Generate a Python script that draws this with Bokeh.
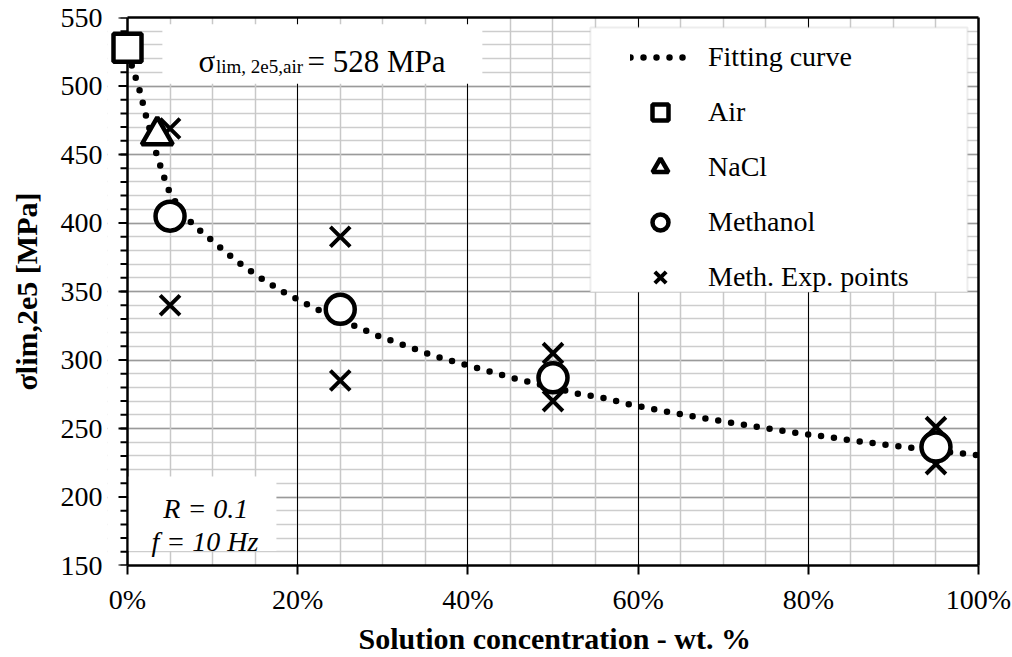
from bokeh.plotting import figure
from bokeh.models import (Range1d, PrintfTickFormatter, FixedTicker, Legend,
                          LegendItem, Label, BoxAnnotation, LinearAxis, Title)
from bokeh.embed import file_html
from bokeh.resources import INLINE

# ---------------- data ----------------
fit_x = [0.5, 0.86, 1.33, 1.72, 2.1, 3.0, 3.4, 3.9, 4.4, 5.0, 6.0, 7.0, 7.8,
         9.05, 10.3, 12.8, 15.4, 18.1, 21.0, 22.4, 26.9, 29.8, 32.9, 35.9,
         39.0, 42.1, 45.2, 48.0, 53.0, 56.2, 59.4, 62.5, 65.7, 68.9, 72.1,
         75.2, 78.4, 81.7, 84.8, 88.0, 91.2, 94.5, 97.7, 100.0]
fit_y = [515, 508, 499, 489.5, 480, 459.5, 450.5, 441, 431.5, 421.5, 412,
         404, 398, 391.8, 385.2, 372.3, 360.8, 350.4, 340.9, 336.7, 324.3,
         316.7, 310, 303.3, 297.7, 292.3, 287, 282.8, 275.3, 272, 267, 263.3,
         259.7, 256.3, 253.1, 250, 247, 244.3, 241.6, 239, 236.5, 234.2, 232,
         230.5]

air_x = [0]
air_y = [528]

nacl_x = [3.5]
nacl_y = [464]

meth_x = [5, 25, 50, 95]
meth_y = [405, 337, 287, 236.5]

exp_x = [5, 5, 25, 25, 50, 50, 95, 95]
exp_y = [469, 340, 390, 285, 305, 270, 251, 224]

x_ticks = [0, 20, 40, 60, 80, 100]
x_minor = list(range(0, 101, 5))
y_ticks = list(range(150, 551, 50))
y_minor = list(range(150, 551, 10))

FONT = "Liberation Serif"
X_START = -2.35   # room left of the y axis so the Air square is drawn whole
FRAME_LEFT, FRAME_RIGHT = 107, 978
PX_PER_X = (FRAME_RIGHT - FRAME_LEFT) / (100 - X_START)

p = figure(width=1012, height=657, output_backend="svg", toolbar_location=None,
           x_range=Range1d(X_START, 100), y_range=Range1d(150, 550),
           min_border_left=FRAME_LEFT, min_border_right=1012 - FRAME_RIGHT,
           min_border_top=17, min_border_bottom=92)
p.background_fill_color = "white"
p.border_fill_color = "white"
p.outline_line_color = None

# x axis
p.xaxis.ticker = FixedTicker(ticks=x_ticks, minor_ticks=x_minor)
p.xaxis.formatter = PrintfTickFormatter(format="%d%%")
p.xaxis.bounds = (0, 100)
p.xaxis.minor_tick_line_color = None
p.xaxis.major_label_standoff = 9

# y axis: only labels here, its line and ticks are drawn at x = 0 below
p.yaxis.ticker = FixedTicker(ticks=y_ticks, minor_ticks=y_minor)
p.yaxis.axis_line_color = None
p.yaxis.major_tick_line_color = None
p.yaxis.minor_tick_line_color = None
p.yaxis.major_tick_out = 0
p.yaxis.major_tick_in = 0
p.yaxis.major_label_standoff = 1
p.yaxis.axis_label_standoff = 15

for ax in (p.xaxis, p.yaxis):
    ax.axis_line_width = 2.5
    ax.major_tick_line_width = 2
    ax.major_label_text_font = FONT
    ax.major_label_text_font_size = "28px"
    ax.major_label_text_color = "black"
p.yaxis.axis_label_text_font = FONT
p.yaxis.axis_label_text_font_style = "bold"
p.yaxis.axis_label_text_font_size = "30px"
p.yaxis.axis_label_text_color = "black"
p.xaxis.axis_line_color = "black"
p.xaxis.major_tick_line_color = "black"
p.xaxis.major_tick_out = 9
p.xaxis.major_tick_in = 0
p.yaxis.axis_label = "σlim,2e5 [MPa]"

# x axis title, centred under the 0-100 % span
p.add_layout(Title(text="Solution concentration - wt. %", align="left",
                   offset=251, text_font=FONT, text_font_style="bold",
                   text_font_size="30px", text_color="black", standoff=4),
             "below")

# top and right frame lines
for side, extra in (("above", dict(bounds=(0, 100))), ("right", {})):
    frame_ax = LinearAxis(ticker=FixedTicker(ticks=[]), axis_line_width=2.5,
                          axis_line_color="black", major_tick_line_color=None,
                          minor_tick_line_color=None,
                          major_label_text_font_size="1px", **extra)
    p.add_layout(frame_ax, side)

# grids
p.xgrid.ticker = FixedTicker(ticks=x_ticks, minor_ticks=x_minor)
p.ygrid.ticker = FixedTicker(ticks=y_ticks, minor_ticks=y_minor)
p.xgrid.grid_line_color = "black"
p.xgrid.grid_line_width = 1
p.xgrid.minor_grid_line_color = "#c8c8c8"
p.xgrid.minor_grid_line_width = 1.5
p.ygrid.grid_line_color = "#9a9a9a"
p.ygrid.grid_line_width = 1.5
p.ygrid.minor_grid_line_color = "#cdcdcd"
p.ygrid.minor_grid_line_width = 1.5

# white strip left of the y axis (hides grid there)
cover = BoxAnnotation(left=X_START, right=0, fill_color="white", fill_alpha=1,
                      line_alpha=0, level="underlay")

# y axis line and ticks at x = 0
maj_x0 = -9 / PX_PER_X
min_x0 = -7 / PX_PER_X
p.segment(x0=[0], y0=[y_ticks[0]], x1=[0], y1=[y_ticks[-1]],
          line_color="black", line_width=2.5)
p.segment(x0=[min_x0] * len(y_minor), y0=y_minor, x1=[0] * len(y_minor),
          y1=y_minor, line_color="black", line_width=2)
p.segment(x0=[maj_x0] * len(y_ticks), y0=y_ticks, x1=[0] * len(y_ticks),
          y1=y_ticks, line_color="black", line_width=2)

# glyphs
r_fit = p.line(fit_x, fit_y, line_color="black", line_width=6.5,
               line_dash="0 13", line_cap="round")
r_exp = p.scatter(exp_x, exp_y, marker="x", size=28, line_color="black",
                  line_width=4)
r_meth = p.scatter(meth_x, meth_y, marker="circle", size=29,
                   fill_color="white", line_color="black", line_width=4.5)
r_nacl = p.scatter(nacl_x, nacl_y, marker="triangle", size=31,
                   fill_color="white", line_color="black", line_width=4.5)
r_air = p.scatter(air_x, air_y, marker="square", size=28,
                  fill_color="white", line_color="black", line_width=4.5)

# white boxes behind texts and legend
top_box = BoxAnnotation(left=4.1, right=41.7, bottom=501.7, top=545,
                        fill_color="white", fill_alpha=1, line_alpha=0)
bl_box = BoxAnnotation(left=0.15, right=17.5, bottom=160.5, top=215,
                       fill_color="white", fill_alpha=1, line_alpha=0)
leg_box = BoxAnnotation(left=54.4, right=98.7, bottom=349.6, top=542.7,
                        fill_color="white", fill_alpha=1,
                        line_color="#c4c4c4", line_width=2)
for b in (top_box, bl_box, leg_box):
    p.add_layout(b)

# annotation texts
p.add_layout(Label(x=8.34, y=517.8, text="σ", text_font=FONT,
                   text_font_size="31px", text_baseline="alphabetic",
                   text_color="black"))
p.add_layout(Label(x=10.4, y=514.0, text="lim, 2e5,air", text_font=FONT,
                   text_font_size="19px", text_baseline="alphabetic",
                   text_color="black"))
p.add_layout(Label(x=21.15, y=517.8, text=f"= {air_y[0]} MPa", text_font=FONT,
                   text_font_size="31px", text_baseline="alphabetic",
                   text_color="black"))
p.add_layout(Label(x=9.2, y=191.5, text="R = 0.1", text_font=FONT,
                   text_font_size="28px", text_font_style="italic",
                   text_align="center", text_baseline="alphabetic",
                   text_color="black"))
p.add_layout(Label(x=9.1, y=167.8, text="f = 10 Hz", text_font=FONT,
                   text_font_size="28px", text_font_style="italic",
                   text_align="center", text_baseline="alphabetic",
                   text_color="black"))

legend = Legend(items=[
    LegendItem(label="Fitting curve", renderers=[r_fit]),
    LegendItem(label="Air", renderers=[r_air]),
    LegendItem(label="NaCl", renderers=[r_nacl]),
    LegendItem(label="Methanol", renderers=[r_meth]),
    LegendItem(label="Meth. Exp. points", renderers=[r_exp]),
], location="top_right", margin=20, padding=0, spacing=15, glyph_width=60,
    glyph_height=40, label_standoff=18, label_width=250,
    border_line_alpha=0, background_fill_alpha=0,
    label_text_font=FONT, label_text_font_size="28px",
    label_text_color="black")
p.add_layout(legend)

# grid order: horizontal lines, vertical lines, then the white strip
p.center = [p.ygrid[0], p.xgrid[0], cover] + [
    c for c in p.center if c not in (p.xgrid[0], p.ygrid[0])]

open("out.html", "w").write(file_html(p, INLINE))
